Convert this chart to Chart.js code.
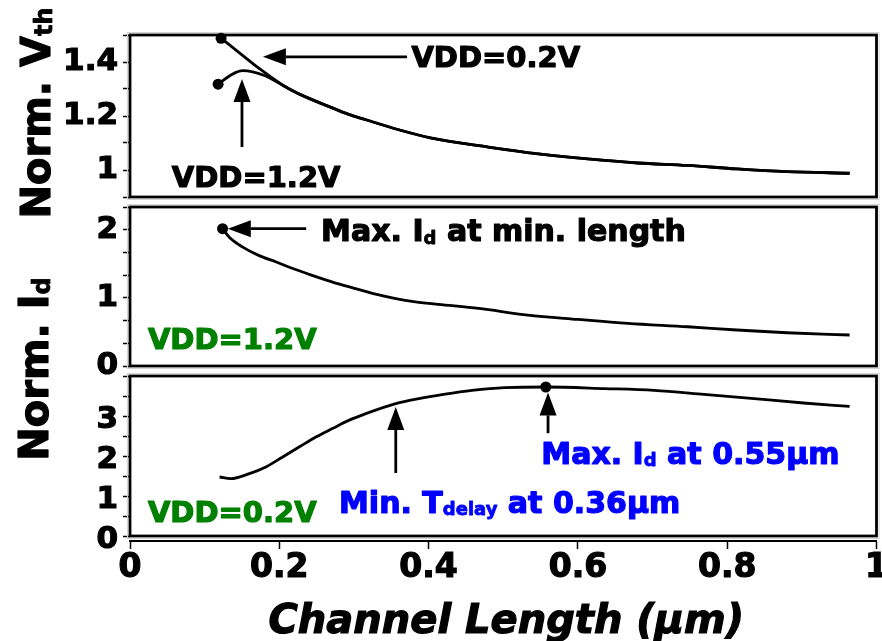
<!DOCTYPE html>
<html>
<head>
<meta charset="utf-8">
<script src="https://cdn.jsdelivr.net/npm/chart.js@4.4.1/dist/chart.umd.min.js"></script>
<style>
    html, body { margin: 0; padding: 0; background: #fff; }
    #wrap { position: relative; width: 882px; height: 641px; overflow: hidden; }
    #wrap canvas { position: absolute; left: 0; top: 0; }
</style>
</head>
<body>
<div id="wrap">
    <canvas id="vthChart" width="882" height="641"></canvas>
    <canvas id="id12Chart" width="882" height="641"></canvas>
    <canvas id="id02Chart" width="882" height="641"></canvas>
</div>
<script>
// Channel length axis (um), shared by all panels
const lengthTicks = [0, 0.2, 0.4, 0.6, 0.8, 1];
const lengthLabels = ['0', '0.2', '0.4', '0.6', '0.8', '1'];

// Panel 1: normalized Vth
const vthTicks = [0.9, 1.0, 1.1, 1.2, 1.3, 1.4, 1.5];
const vthTickLabels = ['', '1', '', '1.2', '', '1.4', ''];
const vth02HeadX = [0.122, 0.147, 0.173];
const vth02HeadY = [1.488, 1.433, 1.376];
const vth12HeadX = [0.118, 0.137, 0.151, 0.18];
const vth12HeadY = [1.318, 1.355, 1.368, 1.35];
const vthTailX = [0.207, 0.227, 0.271, 0.293, 0.316, 0.36, 0.404, 0.48, 0.547, 0.613, 0.68, 0.747, 0.813, 0.88, 0.964];
const vthTailY = [1.31, 1.281, 1.23, 1.206, 1.186, 1.149, 1.118, 1.085, 1.06, 1.041, 1.026, 1.017, 1.004, 0.994, 0.988];
const vthDotX = [0.122, 0.118];
const vthDotY = [1.488, 1.318];

// Panel 2: normalized Id, VDD=1.2V
const id12Ticks = [0, 1 / 3, 2 / 3, 1, 4 / 3, 5 / 3, 2, 7 / 3];
const id12TickLabels = ['0', '', '', '1', '', '', '2', ''];
const id12X = [0.124, 0.133, 0.151, 0.173, 0.196, 0.218, 0.24, 0.262, 0.284, 0.307, 0.329, 0.356, 0.38, 0.413, 0.467, 0.533, 0.6, 0.667, 0.747, 0.813, 0.88, 0.964];
const id12Y = [2.015, 1.89, 1.745, 1.62, 1.526, 1.43, 1.345, 1.265, 1.19, 1.12, 1.055, 0.99, 0.945, 0.905, 0.845, 0.747, 0.684, 0.626, 0.576, 0.528, 0.488, 0.455];
const id12DotX = [0.124];
const id12DotY = [2.015];

// Panel 3: normalized Id, VDD=0.2V
const id02Ticks = [0, 0.5, 1, 1.5, 2, 2.5, 3, 3.5, 4];
const id02TickLabels = ['0', '', '1', '', '2', '', '3', '', ''];
const id02X = [0.12, 0.135, 0.16, 0.182, 0.204, 0.227, 0.249, 0.271, 0.293, 0.316, 0.356, 0.387, 0.42, 0.458, 0.502, 0.557, 0.636, 0.702, 0.769, 0.836, 0.902, 0.964];
const id02Y = [1.475, 1.435, 1.56, 1.725, 1.97, 2.23, 2.475, 2.685, 2.89, 3.06, 3.31, 3.435, 3.54, 3.64, 3.71, 3.725, 3.685, 3.64, 3.54, 3.435, 3.325, 3.24];
const id02DotX = [0.557];
const id02DotY = [3.725];

Chart.defaults.font.family = '"DejaVu Sans", sans-serif';
Chart.defaults.color = '#000';

const FONT = '"DejaVu Sans", sans-serif';
const GREEN = '#008000';
const BLUE = '#0000ff';

function pts(xs, ys) {
    return xs.map((x, i) => ({ x: x, y: ys[i] }));
}

function curve(data) {
    return {
        data: data, borderColor: '#000', borderWidth: 2.8, pointRadius: 0,
        fill: false, cubicInterpolationMode: 'monotone', clip: false
    };
}

function dots(data) {
    return {
        data: data, showLine: false, pointRadius: 5.5, pointBackgroundColor: '#000',
        pointBorderWidth: 0, clip: false
    };
}

function yAxis(lo, hi, ticks, labels, labelOffset) {
    return {
        type: 'linear', min: lo, max: hi,
        afterBuildTicks: s => { s.ticks = ticks.map(v => ({ value: v })); },
        afterFit: s => { s.width = 130; s.paddingTop = 0; s.paddingBottom = 0; },
        border: { display: false },
        grid: { drawOnChartArea: false, drawTicks: true, tickLength: 7, tickWidth: 1.5, tickColor: '#000' },
        ticks: {
            autoSkip: false, padding: 5, labelOffset: labelOffset || 0, color: '#000',
            textStrokeColor: '#000', textStrokeWidth: 1.2,
            font: { size: 31, weight: 'bold' },
            callback: (v, i) => labels[i]
        }
    };
}

const hiddenX = { type: 'linear', min: 0, max: 1, display: false };

// Helpers for frames, arrows and text with subscripts
function drawFrame(chart, lo, hi) {
    const { ctx, scales: { x, y } } = chart;
    const l = x.getPixelForValue(0), r = x.getPixelForValue(1);
    const t = y.getPixelForValue(hi), b = y.getPixelForValue(lo);
    ctx.save();
    ctx.strokeStyle = '#d4d4d4';
    ctx.lineWidth = 1;
    ctx.strokeRect(l - 2.5, t - 2.5, r - l + 5, b - t + 5);
    ctx.strokeStyle = '#000';
    ctx.lineWidth = 2.8;
    ctx.strokeRect(l, t, r - l, b - t);
    ctx.restore();
}

function drawArrow(chart, x1, y1, x2, y2) {
    const { ctx, scales: { x, y } } = chart;
    const ax = x.getPixelForValue(x1), ay = y.getPixelForValue(y1);
    const bx = x.getPixelForValue(x2), by = y.getPixelForValue(y2);
    const ang = Math.atan2(by - ay, bx - ax);
    const head = 23, half = 8.5;
    const hx = bx - head * Math.cos(ang), hy = by - head * Math.sin(ang);
    ctx.save();
    ctx.strokeStyle = '#000';
    ctx.fillStyle = '#000';
    ctx.lineWidth = 2.8;
    ctx.beginPath();
    ctx.moveTo(ax, ay);
    ctx.lineTo(hx, hy);
    ctx.stroke();
    ctx.beginPath();
    ctx.moveTo(bx, by);
    ctx.lineTo(hx - half * Math.sin(ang), hy + half * Math.cos(ang));
    ctx.lineTo(hx + half * Math.sin(ang), hy - half * Math.cos(ang));
    ctx.closePath();
    ctx.fill();
    ctx.restore();
}

function partsWidth(ctx, parts, size, subScale) {
    let w = 0;
    parts.forEach(([t, sub]) => {
        ctx.font = 'bold ' + (sub ? size * subScale : size) + 'px ' + FONT;
        w += ctx.measureText(t).width;
    });
    return w;
}

// draws text pieces in a row, subscripts smaller and a little lower;
// a thin stroke in the fill colour makes the bold face heavier
function drawParts(ctx, parts, x0, base, size, subScale, subDrop) {
    let cx = x0;
    ctx.lineJoin = 'round';
    parts.forEach(([t, sub]) => {
        ctx.font = 'bold ' + (sub ? size * subScale : size) + 'px ' + FONT;
        ctx.lineWidth = sub ? 0.8 : 1.2;
        ctx.fillText(t, cx, base + (sub ? subDrop : 0));
        ctx.strokeText(t, cx, base + (sub ? subDrop : 0));
        cx += ctx.measureText(t).width;
    });
}

function drawLabel(chart, parts, xv, yv, size, color) {
    const { ctx, scales: { x, y } } = chart;
    ctx.save();
    ctx.fillStyle = color;
    ctx.strokeStyle = color;
    ctx.textAlign = 'left';
    ctx.textBaseline = 'alphabetic';
    drawParts(ctx, parts, x.getPixelForValue(xv), y.getPixelForValue(yv) + size * 0.36, size, 0.6, size * 0.08);
    ctx.restore();
}

function drawYTitle(ctx, parts, baseX, midY, size) {
    ctx.save();
    ctx.fillStyle = '#000';
    ctx.strokeStyle = '#000';
    ctx.textAlign = 'left';
    ctx.textBaseline = 'alphabetic';
    ctx.translate(baseX, midY);
    ctx.rotate(-Math.PI / 2);
    const w = partsWidth(ctx, parts, size, 0.6);
    drawParts(ctx, parts, -w / 2, 0, size, 0.6, 2);
    ctx.restore();
}

function makeChart(id, datasets, scales, padding, plugin) {
    return new Chart(document.getElementById(id), {
        type: 'line',
        data: { datasets: datasets },
        options: {
            responsive: false,
            animation: false,
            devicePixelRatio: 1,
            events: [],
            layout: { padding: padding },
            plugins: { legend: { display: false }, tooltip: { enabled: false } },
            scales: scales
        },
        plugins: [plugin]
    });
}

// Panel 1
makeChart('vthChart', [
    curve(pts(vth02HeadX.concat(vthTailX), vth02HeadY.concat(vthTailY))),
    curve(pts(vth12HeadX.concat(vthTailX), vth12HeadY.concat(vthTailY))),
    dots(pts(vthDotX, vthDotY))
], {
    x: hiddenX,
    y: yAxis(0.9, 1.5, vthTicks, vthTickLabels)
}, { left: 0, right: 2, top: 35, bottom: 444 }, {
    id: 'vthPanel',
    beforeDatasetsDraw(chart) { drawFrame(chart, 0.9, 1.5); },
    afterDatasetsDraw(chart) {
        drawArrow(chart, 0.371, 1.419, 0.178, 1.419);
        drawLabel(chart, [['VDD=0.2V']], 0.377, 1.421, 29, '#000');
        drawArrow(chart, 0.150, 1.085, 0.150, 1.337);
        drawLabel(chart, [['VDD=1.2V']], 0.056, 0.976, 29, '#000');
        drawYTitle(chart.ctx, [['Norm. V'], ['th', true]], 50, 113, 40);
    }
});

// Panel 2
makeChart('id12Chart', [
    curve(pts(id12X, id12Y)),
    dots(pts(id12DotX, id12DotY))
], {
    x: hiddenX,
    y: yAxis(0, 7 / 3, id12Ticks, id12TickLabels)
}, { left: 0, right: 2, top: 207, bottom: 275 }, {
    id: 'id12Panel',
    beforeDatasetsDraw(chart) { drawFrame(chart, 0, 7 / 3); },
    afterDatasetsDraw(chart) {
        drawArrow(chart, 0.236, 2.015, 0.131, 2.015);
        drawLabel(chart, [['Max. I'], ['d', true], [' at min. length']], 0.256, 1.99, 30, '#000');
        drawLabel(chart, [['VDD=1.2V']], 0.024, 0.396, 29, GREEN);
    }
});

// Panel 3 (carries the channel length axis)
makeChart('id02Chart', [
    curve(pts(id02X, id02Y)),
    dots(pts(id02DotX, id02DotY))
], {
    x: {
        type: 'linear', min: 0, max: 1, position: 'bottom',
        afterBuildTicks: s => { s.ticks = lengthTicks.map(v => ({ value: v })); },
        afterFit: s => { s.height = 100; s.paddingLeft = 0; s.paddingRight = 0; },
        border: { display: true, color: '#000', width: 2 },
        grid: { drawOnChartArea: false, drawTicks: true, tickLength: 8, tickWidth: 1.5, tickColor: '#000' },
        ticks: {
            autoSkip: false, maxRotation: 0, padding: 0, color: '#000',
            textStrokeColor: '#000', textStrokeWidth: 1.2,
            font: { size: 33, weight: 'bold' },
            callback: (v, i) => lengthLabels[i]
        }
    },
    y: yAxis(-0.125, 4, id02Ticks, id02TickLabels, 4)
}, { left: 0, right: 2, top: 376, bottom: 0 }, {
    id: 'id02Panel',
    beforeDatasetsDraw(chart) { drawFrame(chart, 0, 4); },
    afterDatasetsDraw(chart) {
        drawArrow(chart, 0.356, 1.575, 0.356, 3.225);
        drawArrow(chart, 0.56, 2.57, 0.56, 3.59);
        drawLabel(chart, [['Max. I'], ['d', true], [' at 0.55µm']], 0.551, 2.07, 30, BLUE);
        drawLabel(chart, [['Min. T'], ['delay', true], [' at 0.36µm']], 0.28, 0.85, 30, BLUE);
        drawLabel(chart, [['VDD=0.2V']], 0.024, 0.62, 29, GREEN);
        drawYTitle(chart.ctx, [['Norm. I'], ['d', true]], 48, 369, 40);

        const ctx = chart.ctx, area = chart.chartArea;
        ctx.save();
        ctx.fillStyle = '#000';
        ctx.strokeStyle = '#000';
        ctx.lineWidth = 1.2;
        ctx.font = 'italic bold 40px ' + FONT;
        ctx.textAlign = 'center';
        ctx.textBaseline = 'alphabetic';
        const tx = (area.left + area.right) / 2 + 3, ty = area.bottom + 92;
        ctx.fillText('Channel Length (µm)', tx, ty);
        ctx.strokeText('Channel Length (µm)', tx, ty);
        ctx.restore();
    }
});
</script>
</body>
</html>
